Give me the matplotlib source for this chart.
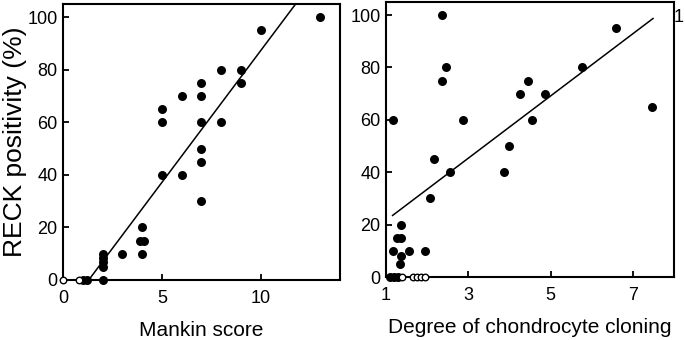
"""RECK positivity vs Mankin score and vs degree of chondrocyte cloning."""
import matplotlib
matplotlib.use("Agg")
import matplotlib.pyplot as plt
import numpy as np

plt.rcParams["font.family"] = ["Liberation Sans", "DejaVu Sans"]

# left panel: Mankin score
mankin_x = [1.0, 1.2, 2, 2, 2, 2, 2, 3, 3.9, 4.1, 4, 4, 5, 5, 5, 6, 6,
            7, 7, 7, 7, 7, 7, 8, 8, 9, 9, 10, 13]
mankin_y = [0, 0, 0, 5, 7, 8.5, 10, 10, 15, 15, 20, 10, 65, 60, 40, 70, 40,
            75, 70, 60, 50, 45, 30, 80, 60, 80, 75, 95, 100]
mankin_open_x = [0, 0.8]
mankin_open_y = [0, 0]
mankin_fit = (10.04, -13.05)      # slope, intercept
mankin_fit_range = (1.3, 12.2)

# right panel: chondrocyte cloning
clone_x = [1.1, 1.2, 1.3, 1.16, 1.16, 1.27, 1.37, 1.37, 1.37, 1.35, 1.57, 1.96,
           2.06, 2.16, 2.37, 2.37, 2.46, 2.55, 2.88, 3.87, 3.98, 4.26, 4.46,
           4.56, 4.86, 5.76, 6.58, 7.47]
clone_y = [0, 0, 0, 60, 10, 15, 15, 20, 8, 5, 10, 10,
           30, 45, 100, 75, 80, 40, 60, 40, 50, 70, 75,
           60, 70, 80, 95, 65]
clone_open_x = [1.4, 1.65, 1.75, 1.85, 1.95]
clone_open_y = [0, 0, 0, 0, 0]
clone_fit = (11.88, 9.72)
clone_fit_range = (1.16, 7.49)

fig = plt.figure(figsize=(6.85, 3.4), dpi=100)
ax1 = fig.add_axes([63 / 685, 60 / 340, 277 / 685, 276 / 340])
ax2 = fig.add_axes([386 / 685, 63 / 340, 288 / 685, 275 / 340])


def panel(ax, x, y, ox, oy, fit, rng, xlim, xticks, xlabel):
    ax.scatter(x, y, s=42, color="black", zorder=3, clip_on=False, linewidths=0)
    ax.scatter(ox, oy, s=22, facecolor="white", edgecolor="black",
               linewidths=1.0, zorder=3, clip_on=False)
    xs = np.array(rng)
    ax.plot(xs, fit[0] * xs + fit[1], color="black", linewidth=1.1, zorder=2)
    ax.set_xlim(*xlim)
    ax.set_ylim(0, 105)
    ax.set_xticks(xticks)
    ax.set_yticks([0, 20, 40, 60, 80, 100])
    ax.tick_params(direction="in", length=4, width=1.3, labelsize=13)
    ax.tick_params(axis="x", pad=7)
    ax.tick_params(axis="y", pad=4)
    for s in ax.spines.values():
        s.set_linewidth(1.5)
    ax.set_xlabel(xlabel, fontsize=15, labelpad=10)


panel(ax1, mankin_x, mankin_y, mankin_open_x, mankin_open_y, mankin_fit,
      mankin_fit_range, (0, 14), [0, 5, 10], "Mankin score")
panel(ax2, clone_x, clone_y, clone_open_x, clone_open_y, clone_fit,
      clone_fit_range, (1, 8), [1, 3, 5, 7], "Degree of chondrocyte cloning")
ax1.set_ylabel("RECK positivity (%)", fontsize=19, labelpad=0)

# first digit of a neighbouring panel's label at the image edge
fig.text(684 / 685, 1 - 17 / 340, "1", fontsize=13, va="center", ha="right")

fig.savefig("out.png", dpi=100)
